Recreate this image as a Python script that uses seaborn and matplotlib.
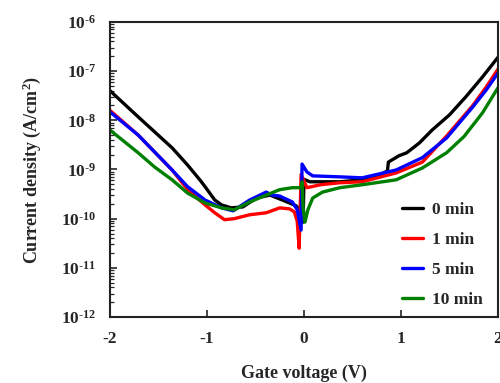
import numpy as np
import pandas as pd
import matplotlib
matplotlib.use("Agg")
import matplotlib.pyplot as plt
import matplotlib.ticker as mticker
import seaborn as sns

# ─── Data (log10 of current density) ──────────────────────────────────────────

v_0min = [-2.00, -1.71, -1.36, -1.20, -1.07, -1.02, -0.92, -0.85, -0.75, -0.63,
          -0.49, -0.35, -0.25, -0.15, -0.08, -0.04, -0.01, 0.00, 0.06, 0.37,
          0.60, 0.78, 0.86, 0.87, 0.98, 1.06, 1.19, 1.32, 1.50, 1.67, 1.84, 2.00]
j_0min = [-7.40, -7.93, -8.56, -8.91, -9.22, -9.35, -9.62, -9.72, -9.78, -9.76,
          -9.58, -9.52, -9.60, -9.68, -9.74, -9.84, -10.07, -9.20, -9.25, -9.25,
          -9.21, -9.11, -9.03, -8.85, -8.72, -8.66, -8.46, -8.20, -7.89, -7.52, -7.12, -6.72]

v_1min = [-2.00, -1.71, -1.36, -1.20, -1.02, -0.92, -0.82, -0.72, -0.56, -0.39,
          -0.25, -0.15, -0.10, -0.07, -0.05, -0.03, 0.03, 0.17, 0.37, 0.60,
          0.95, 1.22, 1.47, 1.74, 1.88, 2.00]
j_1min = [-7.80, -8.30, -9.01, -9.41, -9.72, -9.88, -10.02, -10.00, -9.92, -9.88,
          -9.78, -9.80, -9.86, -10.05, -10.60, -9.10, -9.37, -9.31, -9.27, -9.25,
          -9.07, -8.85, -8.32, -7.70, -7.32, -6.96]

v_5min = [-2.00, -1.71, -1.36, -1.20, -1.02, -0.85, -0.73, -0.56, -0.39, -0.33,
          -0.25, -0.12, -0.07, -0.03, -0.02, 0.03, 0.09, 0.37, 0.60, 0.95,
          1.22, 1.47, 1.74, 1.88, 2.00]
j_5min = [-7.83, -8.30, -9.01, -9.35, -9.62, -9.78, -9.84, -9.62, -9.46, -9.52,
          -9.54, -9.66, -9.82, -10.23, -8.89, -9.05, -9.13, -9.15, -9.17, -9.01,
          -8.76, -8.36, -7.73, -7.38, -7.04]

v_10min = [-2.00, -1.71, -1.54, -1.36, -1.20, -1.02, -0.85, -0.72, -0.56, -0.39,
           -0.25, -0.12, -0.03, -0.02, -0.01, 0.01, 0.04, 0.09, 0.19, 0.37,
           0.60, 0.95, 1.22, 1.47, 1.65, 1.84, 2.00]
j_10min = [-8.20, -8.66, -8.95, -9.21, -9.48, -9.68, -9.78, -9.82, -9.66, -9.52,
           -9.41, -9.37, -9.37, -9.25, -9.76, -10.07, -9.82, -9.58, -9.46, -9.37,
           -9.31, -9.21, -8.97, -8.66, -8.33, -7.85, -7.34]

labels = ["0 min", "1 min", "5 min", "10 min"]
colours = ["#000000", "#ff0000", "#0000ff", "#008000"]

# ─── Long-form table ──────────────────────────────────────────────────────────

frames = []
for lab, v, j in zip(labels,
                     [v_0min, v_1min, v_5min, v_10min],
                     [j_0min, j_1min, j_5min, j_10min]):
    frames.append(pd.DataFrame({"V": v, "J": 10.0 ** np.array(j), "t": lab}))
df = pd.concat(frames, ignore_index=True)

# ─── Plot ─────────────────────────────────────────────────────────────────────

sns.set_style("ticks")
plt.rcParams["font.family"] = ["Liberation Serif", "DejaVu Serif"]
plt.rcParams["font.weight"] = "bold"
plt.rcParams["mathtext.fontset"] = "custom"
plt.rcParams["mathtext.rm"] = "Liberation Serif:bold"
plt.rcParams["mathtext.it"] = "Liberation Serif:bold:italic"
plt.rcParams["mathtext.bf"] = "Liberation Serif:bold"

fig = plt.figure(figsize=(5.0, 3.83), dpi=100)
ax = fig.add_axes([0.22, 0.172, 0.776, 0.771])

sns.lineplot(data=df, x="V", y="J", hue="t", palette=colours,
             estimator=None, sort=False, lw=2.4, ax=ax)

ax.set_yscale("log")
ax.set_xlim(-2, 2)
ax.set_ylim(1e-12, 1e-6)
ax.set_xticks([-2, -1, 0, 1, 2])
ax.set_xticklabels(["-2", "-1", "0", "1", "2"])
ax.yaxis.set_major_locator(mticker.LogLocator(base=10, numticks=10))
ax.yaxis.set_minor_locator(mticker.LogLocator(base=10, subs=np.arange(2, 10), numticks=10))
# short hyphen in the exponent, like the original
ax.yaxis.set_major_formatter(mticker.FuncFormatter(
    lambda y, pos: "10$^{\u2010%d}$" % round(-np.log10(y))))
ax.yaxis.set_minor_formatter(mticker.NullFormatter())

ax.tick_params(axis="both", which="major", direction="in", length=5, width=1.2,
               labelsize=12.5, pad=10)
ax.tick_params(axis="y", which="minor", direction="in", length=3, width=0.9)
for spine in ax.spines.values():
    spine.set_visible(True)
    spine.set_linewidth(1.5)
    spine.set_edgecolor("#222")

ax.set_xlabel("Gate voltage (V)", fontsize=13, fontweight="bold", labelpad=13)
ax.set_ylabel("Current density (A/cm$^2$)", fontsize=13, fontweight="bold", labelpad=13)

ax.legend(frameon=False, loc="upper left", bbox_to_anchor=(0.752, 0.39),
          borderpad=0, borderaxespad=0, handlelength=1.2, handletextpad=0.55,
          labelspacing=0.8, prop={"size": 12.5, "weight": "bold"}, title=None)

fig.savefig("out.png", dpi=100)
